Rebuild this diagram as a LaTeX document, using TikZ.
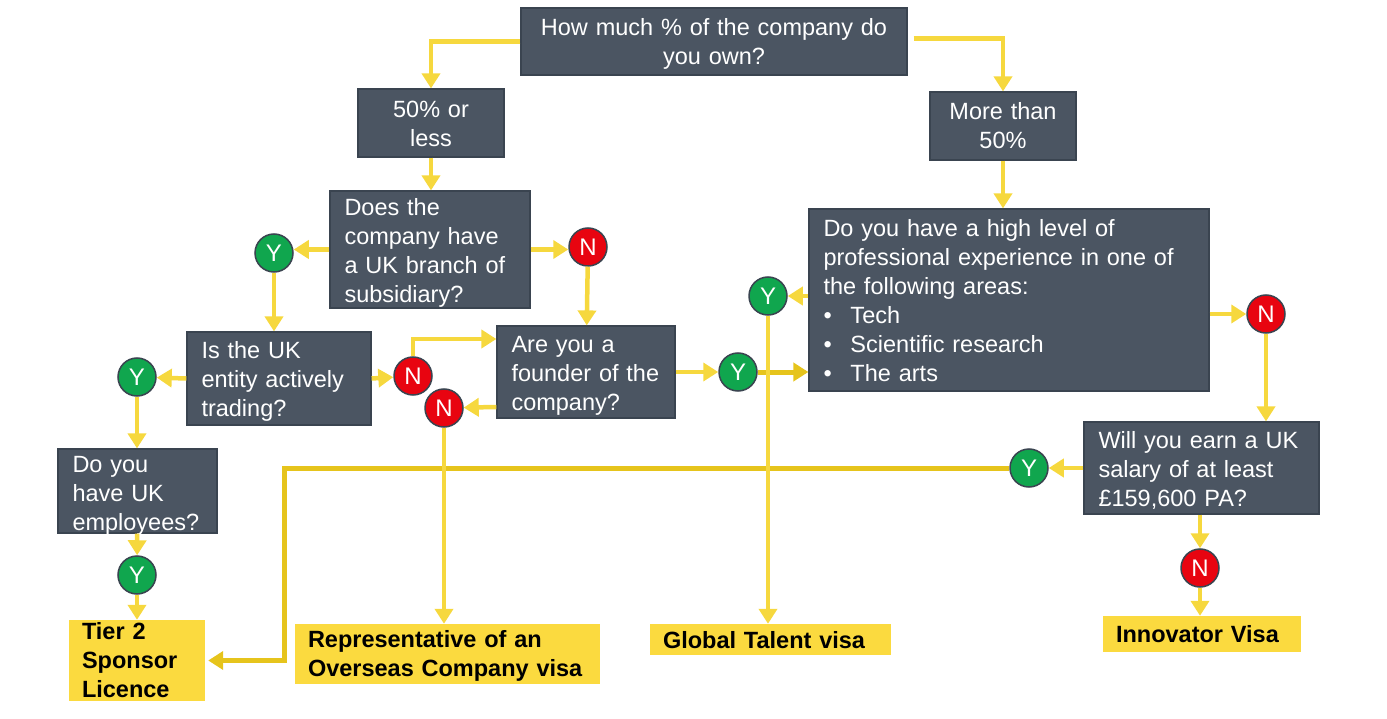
\documentclass[tikz,border=0pt]{standalone}
\usepackage{fontspec}
\setmainfont{Liberation Sans}
\usetikzlibrary{arrows.meta}
\definecolor{slatebox}{HTML}{4B5562}
\definecolor{slateline}{HTML}{3A4450}
\definecolor{linkyellow}{HTML}{F6D83E}
\definecolor{linkdark}{HTML}{E6C41C}
\definecolor{visayellow}{HTML}{FBDA3F}
\definecolor{yesgreen}{HTML}{10A64E}
\definecolor{nored}{HTML}{E80410}
\tikzset{
	qbox/.style={rectangle,fill=slatebox,draw=slateline,line width=1.2pt,text=white,inner xsep=14.5pt,inner ysep=0pt,align=left,font=\fontsize{23.5}{29}\selectfont},
	qmid/.style={qbox,align=center,inner xsep=2pt},
	visa/.style={rectangle,fill=visayellow,text=black,inner xsep=13pt,inner ysep=0pt,align=left,font=\fontsize{23.5}{29}\selectfont\bfseries},
	yes/.style={circle,fill=yesgreen,draw=slateline,line width=1.5pt,text=white,minimum size=38pt,inner sep=0pt,font=\fontsize{24}{24}\selectfont},
	no/.style={circle,fill=nored,draw=slateline,line width=1.5pt,text=white,minimum size=38pt,inner sep=0pt,font=\fontsize{24}{24}\selectfont},
	link/.style={draw=linkyellow,line width=4.5pt,-{Triangle[length=15pt,width=18pt]}},
	longlink/.style={draw=linkdark,line width=5pt,-{Triangle[length=15pt,width=18pt]}}
}
\newcommand{\bulletitem}[1]{\makebox[27pt][l]{•}#1}
% pushes a text block down by #1 inside its box
\newcommand{\sink}[1]{\rule{0pt}{\dimexpr 17pt+2\dimexpr #1pt\relax\relax}}
\begin{document}
\begin{tikzpicture}[x=1pt,y=-1pt]
	\useasboundingbox (0,0) rectangle (1387,719);
	\node[qmid,minimum width=386pt,minimum height=67pt,text width=382pt] (Top) at (714,41.5) {\sink{2}How much \% of the company do\\you own?};
	\node[qmid,minimum width=146pt,minimum height=68pt,text width=142pt] (Less) at (431,123) {\sink{1}50\% or\\less};
	\node[qmid,minimum width=146pt,minimum height=68pt,text width=142pt] (More) at (1003,126) {More than\\50\%};
	\node[qbox,minimum width=200pt,minimum height=117pt,text width=171pt] (Branch) at (430,249.5) {\sink{3}Does the\\company have\\a UK branch of\\subsidiary?};
	\node[qbox,minimum width=184pt,minimum height=93pt,text width=155pt] (Trading) at (279,378.5) {\sink{3}Is the UK\\entity actively\\trading?};
	\node[qbox,minimum width=178pt,minimum height=92pt,text width=149pt] (Founder) at (586,372) {\sink{3}Are you a\\founder of the\\company?};
	\node[qbox,minimum width=400pt,minimum height=182pt,text width=371pt] (Expert) at (1009,300) {\sink{1}Do you have a high level of\\professional experience in one of\\the following areas:\\\bulletitem{Tech}\\\bulletitem{Scientific research}\\\bulletitem{The arts}};
	\node[qbox,minimum width=235pt,minimum height=92pt,text width=206pt] (Salary) at (1201.5,468) {\sink{3}Will you earn a UK\\salary of at least\\£159,600 PA?};
	\node[qbox,minimum width=159pt,minimum height=84pt,text width=130pt] (Staff) at (137.5,491) {\sink{2}Do you\\have UK\\\smash{employees?}};

	\node[yes] (Y1) at (274,253) {Y};
	\node[no] (N1) at (588,247) {N};
	\node[yes] (Y2) at (137,377) {Y};
	\node[no] (N2) at (413,376) {N};
	\node[no] (N3) at (444,408) {N};
	\node[yes] (Y3) at (738,372) {Y};
	\node[yes] (Y4) at (768,296) {Y};
	\node[no] (N4) at (1266,314) {N};
	\node[yes] (Y5) at (1029,468) {Y};
	\node[no] (N5) at (1200,568) {N};
	\node[yes] (Y6) at (137,575) {Y};

	\node[visa,minimum width=136pt,minimum height=81pt,text width=110pt] (Tier) at (137,660.5) {Tier 2\\Sponsor\\Licence};
	\node[visa,minimum width=305pt,minimum height=60pt,text width=279pt] (Rep) at (447.5,654) {\sink{2}Representative of an\\Overseas Company visa};
	\node[visa,minimum width=241pt,minimum height=31pt,text width=215pt] (Talent) at (770.5,639.5) {\sink{1}Global Talent visa};
	\node[visa,minimum width=198pt,minimum height=36pt,text width=172pt] (Innovator) at (1202,634) {Innovator Visa};
	\coordinate (turn) at (284,468);

	\draw[longlink] (Y3) -- (Y3 -| Expert.west);
	\draw[longlink,shorten >=3pt] (Y5) -- (turn) |- (Tier.east);
	\draw[link] (Top.west) -| (Less);
	\draw[link,shorten <=6pt] ([yshift=3pt]Top.east) -| (More);
	\draw[link] (Less) -- (Less |- Branch.north);
	\draw[link] (More) -- (More |- Expert.north);
	\draw[link] (Branch.west) -- (Branch.west -| Y1.east);
	\draw[link] (Branch.east) -- (Branch.east -| N1.west);
	\draw[link] (Y1) -- (Y1 |- Trading.north);
	\draw[link] (N1) -- (Founder);
	\draw[link] (Trading.west) -- (Y2);
	\draw[link] (Trading.east) -- (N2);
	\draw[link] (N2) |- ([yshift=33pt]Founder.west);
	\draw[link] ([yshift=-35pt]Founder.west) -- (N3);
	\draw[link] (Founder.east) -- (Y3);
	\draw[link] (Y4 -| Expert.west) -- (Y4);
	\draw[link] (N4 -| Expert.east) -- (N4);
	\draw[link] (N4) -- (N4 |- Salary.north);
	\draw[link] (Salary.west) -- (Y5);
	\draw[link] (Y2) -- (Y2 |- Staff.north);
	\draw[link] (Staff) -- (Y6);
	\draw[link] (Y6) -- (Y6 |- Tier.north);
	\draw[link] (N3) -- (N3 |- Rep.north);
	\draw[link] (Y4) -- (Y4 |- Talent.north);
	\draw[link] (N5 |- Salary.south) -- (N5);
	\draw[link] (N5) -- (N5 |- Innovator.north);
\end{tikzpicture}
\end{document}
